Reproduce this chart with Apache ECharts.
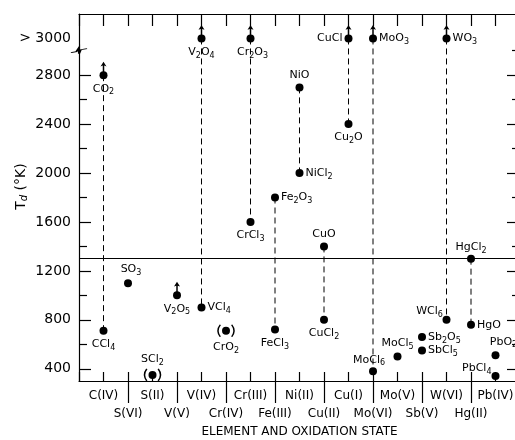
<!DOCTYPE html>
<html>
<head>
<meta charset="utf-8">
<script src="https://cdn.jsdelivr.net/npm/echarts@6/dist/echarts.min.js"></script>
<style>html,body{margin:0;padding:0;background:#fff}#c{width:515px;height:440px}</style>
</head>
<body>
<div id="c"></div>
<script>
// ---- data ----
const categories = [' ', 'C(IV)', 'S(VI)', 'S(II)', 'V(V)', 'V(IV)', 'Cr(IV)', 'Cr(III)', 'Fe(III)', 'Ni(II)', 'Cu(II)', 'Cu(I)', 'Mo(VI)', 'Mo(V)', 'Sb(V)', 'W(VI)', 'Hg(II)', 'Pb(IV)', '  '];
const compounds = ['CO2','CCl4','SO3','SCl2','V2O5','V2O4','VCl4','CrO2','Cr2O3','CrCl3','Fe2O3','FeCl3','NiO','NiCl2','CuO','CuCl2','CuCl','Cu2O','MoO3','MoCl6','MoCl5','Sb2O5','SbCl5','WO3','WCl6','HgCl2','HgO','PbO2','PbCl4'];
const states = ['C(IV)','C(IV)','S(VI)','S(II)','V(V)','V(IV)','V(IV)','Cr(IV)','Cr(III)','Cr(III)','Fe(III)','Fe(III)','Ni(II)','Ni(II)','Cu(II)','Cu(II)','Cu(I)','Cu(I)','Mo(VI)','Mo(VI)','Mo(V)','Sb(V)','Sb(V)','W(VI)','W(VI)','Hg(II)','Hg(II)','Pb(IV)','Pb(IV)'];
const tdK = [2800,710,1100,350,1000,3100,900,710,3100,1600,1800,720,2700,2000,1400,800,3100,2400,3100,380,500,660,550,3100,800,1300,760,510,340];
const lowerBound = ['CO2','V2O5','V2O4','Cr2O3','CuCl','MoO3','WO3'];
const uncertain = ['SCl2','CrO2'];
const linkedPairs = [['CO2','CCl4'],['V2O4','VCl4'],['Cr2O3','CrCl3'],['Fe2O3','FeCl3'],['NiO','NiCl2'],['CuO','CuCl2'],['CuCl','Cu2O'],['MoO3','MoCl6'],['WO3','WCl6'],['HgCl2','HgO']];
const yLabelTicks = [400,800,1200,1600,2000,2400,2800];
const yMinorTicks = [600,1000,1400,1800,2200,2600];
const overLimitValue = 3100;
const overLimitLabel = '> 3000';
const breakValue = 3000;
const referenceLine = 1300;

// ---- styles (label placement) ----
const labelStyle = {
  CO2:{position:'bottom'}, CCl4:{position:'bottom'}, SO3:{position:'top',offset:[3,0]}, SCl2:{position:'top',distance:4},
  V2O5:{position:'bottom'}, V2O4:{position:'bottom'}, VCl4:{position:'right'}, CrO2:{position:'bottom',distance:5},
  Cr2O3:{position:'bottom',offset:[2,0]}, CrCl3:{position:'bottom'}, Fe2O3:{position:'right'}, FeCl3:{position:'bottom'},
  NiO:{position:'top'}, NiCl2:{position:'right'}, CuO:{position:'top'}, CuCl2:{position:'bottom'},
  CuCl:{position:'left'}, Cu2O:{position:'bottom'}, MoO3:{position:'right'}, MoCl6:{position:'top',offset:[-4,2]},
  MoCl5:{position:'top'}, Sb2O5:{position:'right'}, SbCl5:{position:'right'}, WO3:{position:'right'},
  WCl6:{position:'top',distance:0,offset:[-17,3]}, HgCl2:{position:'top',distance:0}, HgO:{position:'right'},
  PbO2:{position:'top',offset:[8,0]}, PbCl4:{position:'left',offset:[2,-8]}
};
const FONT = 'DejaVu Sans';
const INK = '#000';
const richSub = s => s.replace(/(\d)/g, '{s|$1}').replace(/(^|})([^{}]+)(?={|$)/g, (m,a,b)=> a + '{n|' + b + '}');
const rich = { n:{fontSize:11, fontFamily:FONT, color:INK, lineHeight:13, verticalAlign:'middle'},
               s:{fontSize:8, fontFamily:FONT, color:INK, padding:[7,0,0,0], verticalAlign:'bottom'} };

const idx = Object.fromEntries(compounds.map((c,i)=>[c,i]));
const dotData = compounds.map((c,i)=>({
  name:c, value:[states[i], tdK[i]],
  label: Object.assign({show:true, distance:2, formatter: richSub(c), rich}, labelStyle[c])
}));
const arrowData = lowerBound.map(c=>({name:c, value:[states[idx[c]], tdK[idx[c]]]}));
const parenData = uncertain.map(c=>({name:c, value:[states[idx[c]], tdK[idx[c]]]}));

const pairSeries = linkedPairs.map(p=>({
  type:'line', xAxisIndex:0, yAxisIndex:0, showSymbol:false, silent:true, z:1,
  data: p.map(c=>[states[idx[c]], tdK[idx[c]]]),
  lineStyle:{color:INK, width:1, type:[6,4]}
}));

const yBase = {type:'value', min:300, max:3300, splitLine:{show:false}};
const chart = echarts.init(document.getElementById('c'), null, {renderer:'canvas'});
chart.setOption({
  animation:false,
  backgroundColor:'#fff',
  grid:{left:79, right:-5, top:14, bottom:59, containLabel:false, outerBoundsMode:'none'},
  xAxis:[
    {type:'category', data:categories, boundaryGap:false, position:'bottom',
     axisLine:{lineStyle:{color:INK,width:1.2}},
     axisTick:{inside:true, length:9, interval:0, lineStyle:{color:INK,width:1.2}},
     axisLabel:{interval:0, margin:6, fontSize:12, fontFamily:FONT, color:INK, lineHeight:18,
       formatter:(v,i)=> (i===0||i===categories.length-1) ? '' : (i%2===1 ? v : '\n'+v)},
     name:'ELEMENT AND OXIDATION STATE', nameLocation:'middle', nameGap:45, nameMoveOverlap:false,
     nameTextStyle:{fontSize:12, fontFamily:FONT, color:INK}},
    {type:'category', data:categories, boundaryGap:false, position:'top',
     axisLine:{lineStyle:{color:INK,width:1.2}},
     axisTick:{inside:true, length:12, interval:0, lineStyle:{color:INK,width:1.2}},
     axisLabel:{show:false}},
    {type:'category', data:categories, boundaryGap:false, position:'bottom',
     axisLine:{show:false},
     axisTick:{inside:false, length:22, interval:(i)=> i>0 && i<categories.length-1 && i%2===0, lineStyle:{color:INK,width:1.2}},
     axisLabel:{show:false}}
  ],
  yAxis:[
    Object.assign({}, yBase, {position:'left',
      axisLine:{show:true, lineStyle:{color:INK,width:1.2}},
      axisTick:{show:true, inside:true, length:12, customValues:yLabelTicks, lineStyle:{color:INK,width:1.2}},
      axisLabel:{customValues:yLabelTicks.concat([overLimitValue]), margin:8, fontSize:14, fontFamily:FONT, color:INK,
        formatter:v=> v===overLimitValue ? overLimitLabel : String(v)},
      name:'T{d|d} (°K)', nameLocation:'middle', nameGap:50, nameMoveOverlap:false,
      nameTextStyle:{fontSize:14, fontFamily:FONT, color:INK, padding:[0,0,0,22],
        rich:{d:{fontSize:10, fontFamily:FONT, color:INK, fontStyle:'italic', padding:[6,0,0,0], verticalAlign:'bottom'}}}}),
    Object.assign({}, yBase, {position:'left', axisLine:{show:false},
      axisTick:{show:true, inside:true, length:8, customValues:yMinorTicks, lineStyle:{color:INK,width:1.2}},
      axisLabel:{show:false}}),
    Object.assign({}, yBase, {position:'right', axisLine:{show:true, lineStyle:{color:INK,width:1.2}},
      axisTick:{show:true, inside:true, length:13, customValues:yLabelTicks, lineStyle:{color:INK,width:1.2}},
      axisLabel:{show:false}}),
    Object.assign({}, yBase, {position:'right', axisLine:{show:false},
      axisTick:{show:true, inside:true, length:8, customValues:yMinorTicks.concat([breakValue]), lineStyle:{color:INK,width:1.2}},
      axisLabel:{show:false}})
  ],
  series:[
    ...pairSeries,
    {type:'scatter', name:'Td', xAxisIndex:0, yAxisIndex:0, z:5, symbol:'circle', symbolSize:8,
     itemStyle:{color:INK, opacity:1}, data:dotData,
     markLine:{silent:true, symbol:'none', label:{show:false}, lineStyle:{color:INK, type:'solid', width:1.2},
       data:[{yAxis:referenceLine}]},
     markPoint:{silent:true, label:{show:false},
       data:[{coord:[0, breakValue], symbol:'path://M0,5 L6,4 L9,0 L9,6 L11,2 L18,1', symbolSize:[16,6],
         itemStyle:{color:'rgba(0,0,0,0)', borderColor:INK, borderWidth:1.3}}]}},
    {type:'scatter', name:'lower bound', xAxisIndex:0, yAxisIndex:0, z:4,
     symbol:'path://M4,0 L8,6 L5,5 L5,14 L3,14 L3,5 L0,6 Z', symbolSize:[6,11], symbolOffset:[0,-8],
     itemStyle:{color:INK, opacity:1}, data:arrowData, label:{show:false}},
    {type:'scatter', name:'uncertain', xAxisIndex:0, yAxisIndex:0, z:4,
     symbol:'path://M4,0 Q0,6 4,12 M14,0 Q18,6 14,12', symbolSize:[16,12],
     itemStyle:{color:'rgba(0,0,0,0)', borderColor:INK, borderWidth:1.3, opacity:1}, data:parenData, label:{show:false}}
  ]
});
</script>
</body>
</html>
